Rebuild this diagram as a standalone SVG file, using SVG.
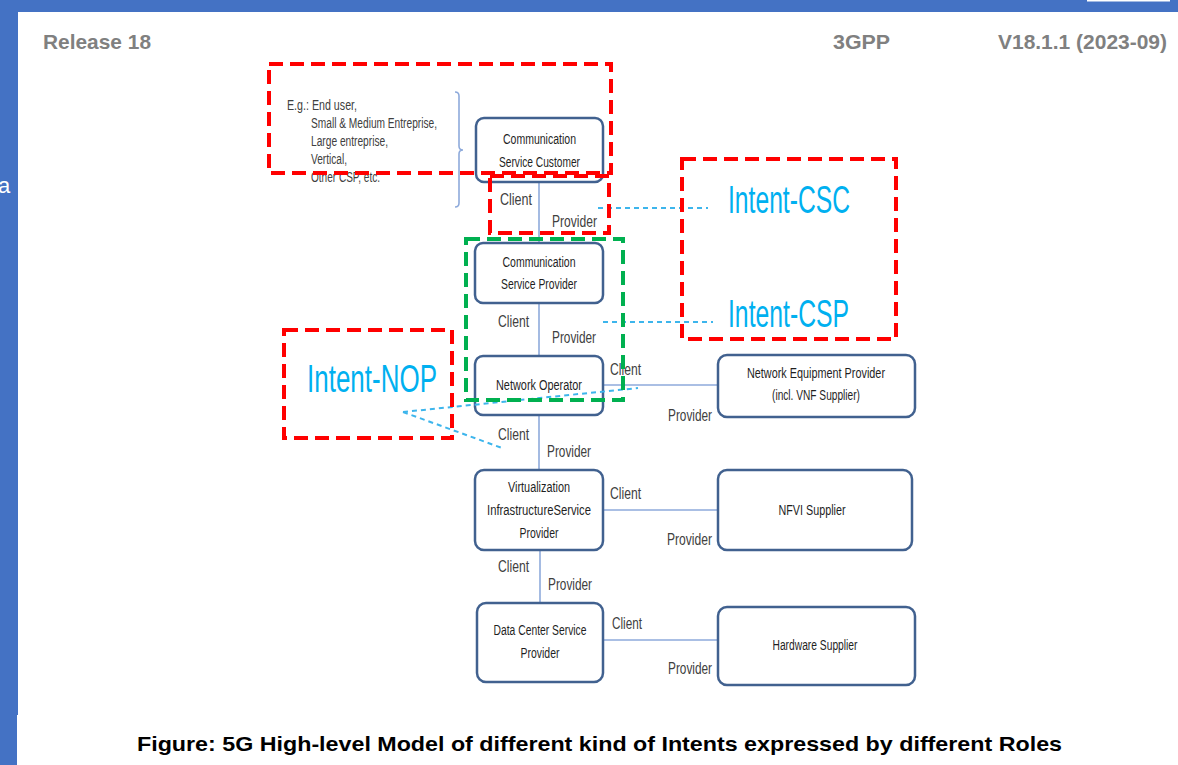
<svg xmlns="http://www.w3.org/2000/svg" width="1178" height="765" viewBox="0 0 1178 765">
  <style>
    .frame { fill: #4472C4; }
    .hdr { font-family: "Liberation Sans", Arial, sans-serif; font-weight: bold; font-size: 21px; fill: #808080; }
    .node rect { fill: #FFFFFF; stroke: #41618F; stroke-width: 2.5; }
    .nt { font-family: "Liberation Sans", Arial, sans-serif; font-size: 14px; fill: #1F1F1F; text-anchor: middle; }
    .lbl { font-family: "Liberation Sans", Arial, sans-serif; font-size: 16px; fill: #404040; }
    .eg { font-family: "Liberation Sans", Arial, sans-serif; font-size: 14px; fill: #404040; }
    .conn { stroke: #8EAADB; stroke-width: 1.6; fill: none; }
    .idash { stroke: #3DB5EC; stroke-width: 2; stroke-dasharray: 5 4; fill: none; }
    .red { fill: none; stroke: #FF0000; stroke-width: 4; stroke-dasharray: 14 7; }
    .green { fill: none; stroke: #00B050; stroke-width: 4; stroke-dasharray: 14 7; }
    .intent { font-family: "Liberation Sans", Arial, sans-serif; font-size: 38px; fill: #00B0F0; }
    .caption { font-family: "Liberation Sans", Arial, sans-serif; font-weight: bold; font-size: 21px; fill: #000000; }
  </style>

  <!-- page background and slide frame -->
  <rect x="0" y="0" width="1178" height="765" fill="#FFFFFF"/>
  <rect class="frame" x="0" y="0" width="1178" height="12"/>
  <rect class="frame" x="0" y="0" width="18" height="715"/>
  <rect class="frame" x="0" y="715" width="17" height="50"/>
  <rect x="1087" y="0" width="83" height="1.5" fill="#FFFFFF"/>
  <text x="-2" y="193" font-family="Liberation Sans, Arial, sans-serif" font-size="22" fill="#FFFFFF">a</text>

  <!-- page header -->
  <text class="hdr" x="43" y="49" textLength="108" lengthAdjust="spacingAndGlyphs">Release 18</text>
  <text class="hdr" x="833" y="49" textLength="57" lengthAdjust="spacingAndGlyphs">3GPP</text>
  <text class="hdr" x="998" y="49" textLength="169" lengthAdjust="spacingAndGlyphs">V18.1.1 (2023-09)</text>

  <!-- customer examples with brace -->
  <g id="examples">
    <text class="eg" x="287" y="110" textLength="70" lengthAdjust="spacingAndGlyphs">E.g.: End user,</text>
    <text class="eg" x="311" y="128" textLength="126" lengthAdjust="spacingAndGlyphs">Small &amp; Medium Entreprise,</text>
    <text class="eg" x="311" y="146" textLength="77" lengthAdjust="spacingAndGlyphs">Large entreprise,</text>
    <text class="eg" x="311" y="164" textLength="36" lengthAdjust="spacingAndGlyphs">Vertical,</text>
    <text class="eg" x="311" y="182" textLength="69" lengthAdjust="spacingAndGlyphs">Other CSP, etc.</text>
    <path class="conn" d="M455,92 Q459,92 459,96 L459,146 Q459,150 463,150 Q459,150 459,154 L459,203 Q459,207 455,207"/>
  </g>

  <!-- connectors between roles -->
  <g id="connectors">
    <line class="conn" x1="539" y1="182" x2="539" y2="243"/>
    <line class="conn" x1="539" y1="303" x2="539" y2="356"/>
    <line class="conn" x1="603" y1="385" x2="718" y2="385"/>
    <line class="conn" x1="539" y1="415" x2="539" y2="470"/>
    <line class="conn" x1="603" y1="510" x2="718" y2="510"/>
    <line class="conn" x1="540" y1="550" x2="540" y2="603"/>
    <line class="conn" x1="603" y1="640" x2="718" y2="640"/>

    <text class="lbl" x="500" y="205" textLength="32" lengthAdjust="spacingAndGlyphs">Client</text>
    <text class="lbl" x="552" y="227" textLength="45" lengthAdjust="spacingAndGlyphs">Provider</text>
    <text class="lbl" x="498" y="327" textLength="31" lengthAdjust="spacingAndGlyphs">Client</text>
    <text class="lbl" x="552" y="343" textLength="44" lengthAdjust="spacingAndGlyphs">Provider</text>
    <text class="lbl" x="610" y="375" textLength="31" lengthAdjust="spacingAndGlyphs">Client</text>
    <text class="lbl" x="668" y="421" textLength="44" lengthAdjust="spacingAndGlyphs">Provider</text>
    <text class="lbl" x="498" y="440" textLength="31" lengthAdjust="spacingAndGlyphs">Client</text>
    <text class="lbl" x="547" y="457" textLength="44" lengthAdjust="spacingAndGlyphs">Provider</text>
    <text class="lbl" x="610" y="499" textLength="31" lengthAdjust="spacingAndGlyphs">Client</text>
    <text class="lbl" x="667" y="545" textLength="45" lengthAdjust="spacingAndGlyphs">Provider</text>
    <text class="lbl" x="498" y="572" textLength="31" lengthAdjust="spacingAndGlyphs">Client</text>
    <text class="lbl" x="548" y="590" textLength="44" lengthAdjust="spacingAndGlyphs">Provider</text>
    <text class="lbl" x="612" y="629" textLength="30" lengthAdjust="spacingAndGlyphs">Client</text>
    <text class="lbl" x="668" y="674" textLength="44" lengthAdjust="spacingAndGlyphs">Provider</text>
  </g>

  <!-- role nodes -->
  <g id="csc" class="node">
    <rect x="476" y="118" width="127" height="64" rx="8"/>
    <text class="nt" x="539.5" y="144" textLength="73" lengthAdjust="spacingAndGlyphs">Communication</text>
    <text class="nt" x="539.5" y="167" textLength="81" lengthAdjust="spacingAndGlyphs">Service Customer</text>
  </g>
  <g id="csp" class="node">
    <rect x="475" y="243" width="128" height="60" rx="8"/>
    <text class="nt" x="539" y="267" textLength="73" lengthAdjust="spacingAndGlyphs">Communication</text>
    <text class="nt" x="539" y="289" textLength="76" lengthAdjust="spacingAndGlyphs">Service Provider</text>
  </g>
  <g id="nop" class="node">
    <rect x="475" y="356" width="128" height="59" rx="8"/>
    <text class="nt" x="539" y="390" textLength="86" lengthAdjust="spacingAndGlyphs">Network Operator</text>
  </g>
  <g id="nep" class="node">
    <rect x="718" y="355" width="197" height="62" rx="9"/>
    <text class="nt" x="816" y="378" textLength="138" lengthAdjust="spacingAndGlyphs">Network Equipment Provider</text>
    <text class="nt" x="816" y="400" textLength="88" lengthAdjust="spacingAndGlyphs">(incl. VNF Supplier)</text>
  </g>
  <g id="visp" class="node">
    <rect x="475" y="470" width="128" height="80" rx="9"/>
    <text class="nt" x="539" y="492" textLength="62" lengthAdjust="spacingAndGlyphs">Virtualization</text>
    <text class="nt" x="539" y="515" textLength="104" lengthAdjust="spacingAndGlyphs">InfrastructureService</text>
    <text class="nt" x="539" y="538" textLength="39" lengthAdjust="spacingAndGlyphs">Provider</text>
  </g>
  <g id="nfvi" class="node">
    <rect x="718" y="470" width="194" height="80" rx="9"/>
    <text class="nt" x="812" y="515" textLength="67" lengthAdjust="spacingAndGlyphs">NFVI Supplier</text>
  </g>
  <g id="dcsp" class="node">
    <rect x="477" y="603" width="126" height="79" rx="9"/>
    <text class="nt" x="540" y="635" textLength="93" lengthAdjust="spacingAndGlyphs">Data Center Service</text>
    <text class="nt" x="540" y="658" textLength="39" lengthAdjust="spacingAndGlyphs">Provider</text>
  </g>
  <g id="hw" class="node">
    <rect x="718" y="607" width="197" height="78" rx="9"/>
    <text class="nt" x="815" y="650" textLength="85" lengthAdjust="spacingAndGlyphs">Hardware Supplier</text>
  </g>

  <!-- intent pointers -->
  <g id="intent-links">
    <line class="idash" x1="598" y1="208" x2="708" y2="208"/>
    <line class="idash" x1="603" y1="322" x2="713" y2="322"/>
    <line class="idash" x1="403" y1="412" x2="638" y2="388"/>
    <line class="idash" x1="403" y1="412" x2="502" y2="448"/>
  </g>

  <!-- highlight frames -->
  <g id="highlight-csc">
    <rect class="red" x="269" y="64" width="342" height="109"/>
    <rect class="red" x="490" y="176" width="119" height="57"/>
  </g>
  <g id="highlight-csp">
    <rect class="green" x="466" y="239" width="157" height="161"/>
  </g>
  <g id="intent-csc-csp">
    <rect class="red" x="682" y="159" width="214" height="180"/>
    <text class="intent" x="728" y="213" textLength="122" lengthAdjust="spacingAndGlyphs">Intent-CSC</text>
    <text class="intent" x="728" y="327" textLength="121" lengthAdjust="spacingAndGlyphs">Intent-CSP</text>
  </g>
  <g id="intent-nop">
    <rect class="red" x="284" y="330" width="168" height="108"/>
    <text class="intent" x="307" y="392" textLength="130" lengthAdjust="spacingAndGlyphs">Intent-NOP</text>
  </g>

  <!-- figure caption -->
  <text class="caption" x="137" y="751" textLength="925" lengthAdjust="spacingAndGlyphs">Figure: 5G High-level Model of different kind of Intents expressed by different Roles</text>
</svg>
